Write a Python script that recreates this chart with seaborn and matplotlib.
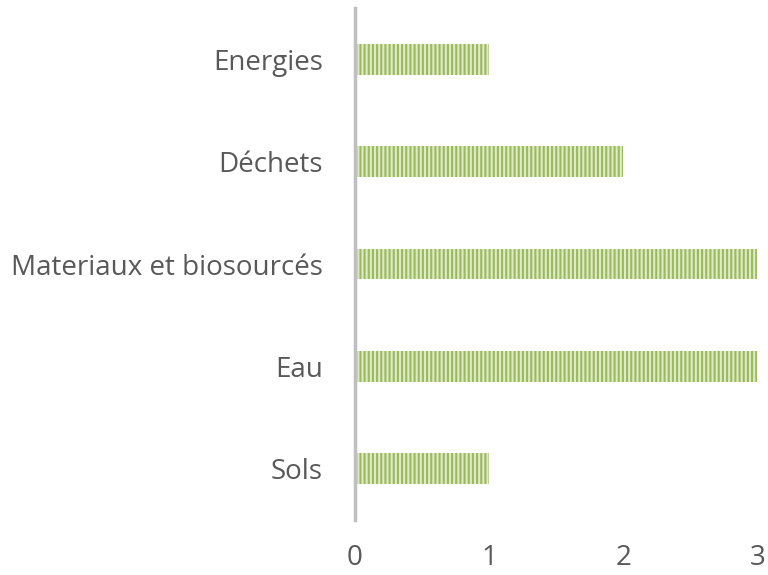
import matplotlib
matplotlib.use("Agg")
import matplotlib.pyplot as plt
import seaborn as sns
import pandas as pd

categories = ["Energies", "Déchets", "Materiaux et biosourcés", "Eau", "Sols"]
values = [1, 2, 3, 3, 1]
xticks = [0, 1, 2, 3]

sns.set_theme(style="white")
plt.rcParams["font.family"] = ["Open Sans", "DejaVu Sans"]
plt.rcParams["hatch.linewidth"] = 1.5

df = pd.DataFrame({"cat": categories, "val": values})

fig = plt.figure(figsize=(7.68, 5.75), dpi=100)
ax = fig.add_axes([0.462, 0.0957, 0.524, 0.8903])
sns.barplot(data=df, x="val", y="cat", orient="h", ax=ax, width=0.30,
            color="#d3e2b3", saturation=1)
for p in ax.patches:
    p.set_facecolor("#dfe9cb")
    p.set_edgecolor("#9bbb59")
    p.set_hatch("||||")
    p.set_linewidth(0)

ax.set_xlim(0, 3)
ax.set_ylim(4.5, -0.5)
ax.set_xticks(xticks)
ax.set_xticklabels([str(t) for t in xticks])
ax.set_xlabel("")
ax.set_ylabel("")
for s in ["top", "right", "bottom"]:
    ax.spines[s].set_visible(False)
ax.spines["left"].set_color("#bfbfbf")
ax.spines["left"].set_linewidth(2.5)
ax.tick_params(axis="both", length=0, labelsize=20, colors="#595959")
ax.tick_params(axis="x", pad=17)
ax.tick_params(axis="y", pad=23)
fig.savefig("out.png", dpi=100)
